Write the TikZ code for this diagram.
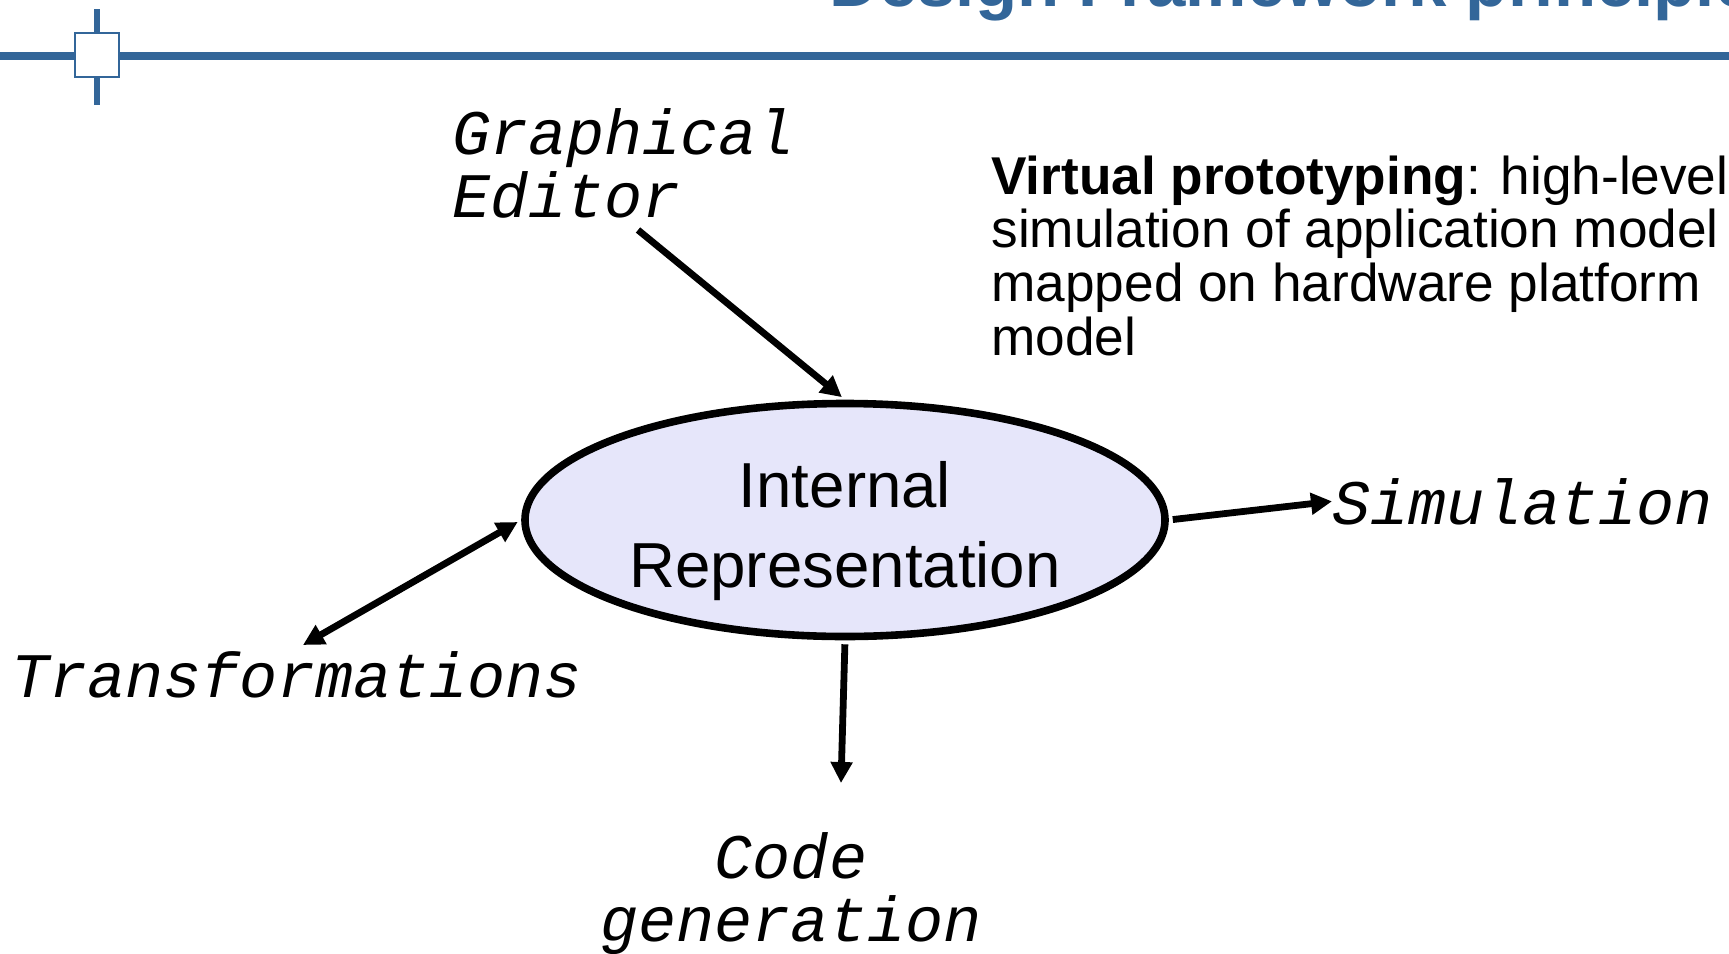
\documentclass[tikz,border=0pt]{standalone}
\usepackage{fontspec}
\setmainfont{Liberation Sans}
\newfontfamily\codefont{Liberation Mono}
\usetikzlibrary{shapes.geometric,arrows.meta}
\definecolor{slideblue}{RGB}{51,102,153}
\definecolor{irfill}{RGB}{230,230,250}

\begin{document}
\begin{tikzpicture}[x=0.5pt,y=-0.5pt,
    tool/.style={font=\codefont\itshape\fontsize{31.7}{31.5}\selectfont, inner sep=0pt},
    arr/.style={line width=3.4pt, -{Triangle[length=10.5pt,width=10.5pt]}}]
      \useasboundingbox (0,0) rectangle (1729,953);
      \clip (0,0) rectangle (1729,953);

      % Slide header
      \node[anchor=base west, inner sep=0pt, text=slideblue,
        font=\bfseries\fontsize{34.5}{42}\selectfont] (title) at (829,6)
        {Design Framework principles};
      \draw[slideblue, line width=4pt] (0,56) -- (1729,56);
      \draw[slideblue, line width=3pt] (97,9) -- (97,105);
      \node[draw=slideblue, fill=white, line width=1pt, minimum size=22pt,
        inner sep=0pt] (hbox) at (97,55) {};

      % Internal representation
      \node[ellipse, draw, line width=3.8pt, fill=irfill, minimum width=320pt,
        minimum height=116.5pt, inner sep=0pt] (ir) at (845,520) {};
      \node[align=center, inner sep=0pt,
        font=\fontsize{31.8}{40.2}\selectfont] (irlabel) at (845,531)
        {Internal\\Representation};

      % Tools
      \node[tool, anchor=base west, align=left] (ge) at (452,217) {Graphical\\Editor};
      \node[tool, anchor=base west] (sim) at (1332,524) {Simulation};
      \node[tool, anchor=base west] (trf) at (11,697) {Transformations};
      \node[tool, anchor=base, align=center] (cg) at (791,941) {Code\\generation};

      % Note
      \node[anchor=base west, inner sep=0pt, align=left,
        font=\fontsize{26.6}{26.8}\selectfont] (note) at (991,355)
        {\textbf{Virtual prototyping}: high-level\\simulation of application model\\mapped on hardware platform\\model};

      % Arrow ends
      \coordinate (getail) at (638,230);
      \coordinate (trftip) at (303,645);
      \coordinate (cgtip) at (841,783);

      % Arrows
      \draw[arr, shorten >=2pt] (getail) -- (ir.north);
      \draw[arr, shorten <=2pt] (ir.east) -- (sim.west);
      \draw[arr, {Triangle[length=10.5pt,width=10.5pt]}-{Triangle[length=10.5pt,width=10.5pt]},
        shorten <=2pt] (ir.west) -- (trftip);
      \draw[arr, shorten <=2pt] (ir.south) -- (cgtip);
    \end{tikzpicture}
\end{document}
